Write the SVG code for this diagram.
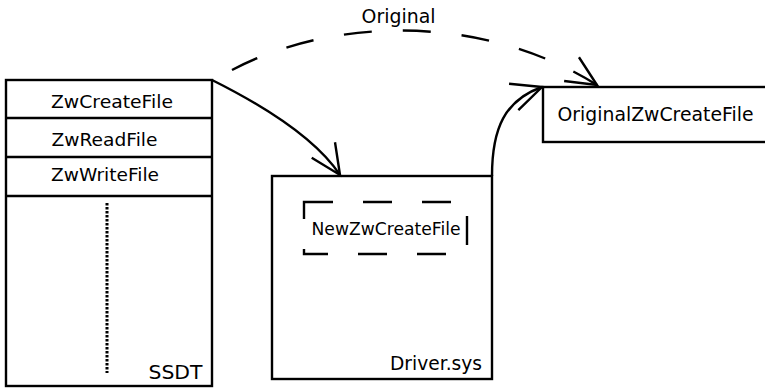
<svg xmlns="http://www.w3.org/2000/svg" width="765" height="388" viewBox="0 0 765 388">
<style>
.box{fill:#fff;stroke:#000;stroke-width:2.4}
.ln{fill:none;stroke:#000;stroke-width:2.4}
.dash{fill:none;stroke:#000;stroke-width:2.4;stroke-dasharray:29 30}
text{font-family:"DejaVu Sans","Liberation Sans",sans-serif;fill:#000}
.t16{font-size:17px}
.t19{font-size:19px}
</style>
<defs>
<marker id="arr" markerUnits="userSpaceOnUse" markerWidth="40" markerHeight="40" refX="0" refY="0" viewBox="-36 -20 40 40" orient="auto" overflow="visible">
<path d="M-30,-14 L0,0 L-30,14" fill="none" stroke="#000" stroke-width="2.4" stroke-dasharray="none"/>
</marker>
</defs>
<rect width="765" height="388" fill="#fff"/>
<g id="ssdt">
<rect class="box" x="6" y="80" width="206" height="306"/>
<line class="ln" x1="6" y1="118" x2="212" y2="118"/>
<line class="ln" x1="6" y1="157" x2="212" y2="157"/>
<line class="ln" x1="6" y1="196" x2="212" y2="196"/>
<line class="ln" x1="107" y1="203" x2="107" y2="373" style="stroke-width:3;stroke-dasharray:2.5 1.5"/>
<text class="t16" x="51" y="108" textLength="122" lengthAdjust="spacingAndGlyphs">ZwCreateFile</text>
<text class="t16" x="51.5" y="146" textLength="106" lengthAdjust="spacingAndGlyphs">ZwReadFile</text>
<text class="t16" x="51" y="181" textLength="108" lengthAdjust="spacingAndGlyphs">ZwWriteFile</text>
<text class="t19" x="148.5" y="379" textLength="54" lengthAdjust="spacingAndGlyphs">SSDT</text>
</g>
<g id="driver">
<rect class="box" x="272" y="176" width="220" height="203"/>
<rect class="dash" x="304" y="202" width="163" height="52"/>
<text class="t16" x="311.5" y="235" textLength="149" lengthAdjust="spacingAndGlyphs">NewZwCreateFile</text>
<text class="t19" x="390" y="370" textLength="92" lengthAdjust="spacingAndGlyphs">Driver.sys</text>
</g>
<g id="original">
<rect class="box" x="543" y="87" width="232" height="55"/>
<text class="t19" x="557.5" y="121" textLength="196" lengthAdjust="spacingAndGlyphs">OriginalZwCreateFile</text>
</g>
<g id="connectors">
<path class="ln" d="M212,80 C250,99 312,133 340,175" marker-end="url(#arr)"/>
<path class="ln" d="M492,176 C492,128 505,100 542,87" marker-end="url(#arr)"/>
<path class="ln" d="M232,70 C330,18 480,12 597,85" style="stroke-dasharray:28 31" marker-end="url(#arr)"/>
<text class="t19" x="361.5" y="23" textLength="74" lengthAdjust="spacingAndGlyphs">Original</text>
</g>
</svg>
